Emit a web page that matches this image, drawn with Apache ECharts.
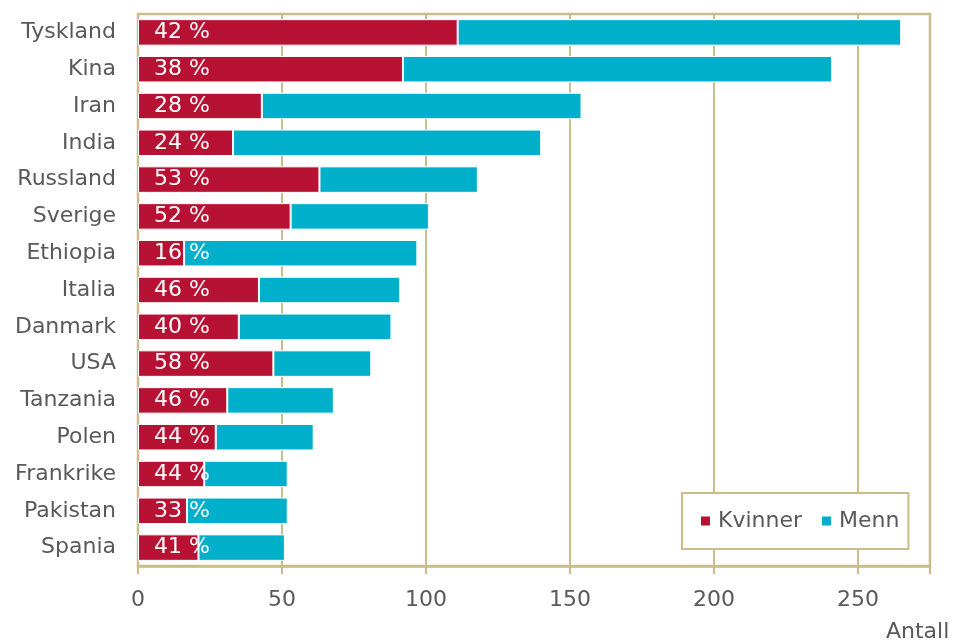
<!DOCTYPE html>
<html><head><meta charset="utf-8">
<script src="https://cdn.jsdelivr.net/npm/echarts@6/dist/echarts.min.js"></script>
<style>html,body{margin:0;padding:0;background:#fff}#c{width:953px;height:640px}</style>
</head><body><div id="c"></div>
<script>
const categories = ['Tyskland','Kina','Iran','India','Russland','Sverige','Ethiopia','Italia','Danmark','USA','Tanzania','Polen','Frankrike','Pakistan','Spania'];
const kvinner = [111, 92, 43, 33, 63, 53, 16, 42, 35, 47, 31, 27, 23, 17, 21];
const menn = [154, 149, 111, 107, 55, 48, 81, 49, 53, 34, 37, 34, 29, 35, 30];
const andelKvinner = [42, 38, 28, 24, 53, 52, 16, 46, 40, 58, 46, 44, 44, 33, 41];
const xTicks = [0, 50, 100, 150, 200, 250];

const gold = '#c9bd8c';
const txt = '#595959';
const font = 'DejaVu Sans';
const fs = 22;
const chart = echarts.init(document.getElementById('c'), null, {renderer: 'canvas'});
chart.setOption({
  animation: false,
  textStyle: {fontFamily: font},
  grid: {left: 138, right: 23, top: 14, bottom: 74, show: true, borderColor: gold, borderWidth: 2.5, containLabel: false},
  legend: {
    left: 682, top: 493, orient: 'horizontal',
    data: ['Kvinner', 'Menn'],
    icon: 'rect', itemWidth: 11, itemHeight: 11, itemGap: 18,
    borderColor: gold, borderWidth: 2, padding: [17, 9, 17, 17],
    textStyle: {color: txt, fontSize: fs, fontFamily: font, padding: [0, 0, 0, 2]},
    backgroundColor: '#fff'
  },
  xAxis: {
    type: 'value', min: 0, max: 275, interval: 50,
    axisLine: {show: true, lineStyle: {color: gold, width: 2.5}},
    axisTick: {show: true, length: 8, lineStyle: {color: gold, width: 2}},
    splitLine: {show: true, lineStyle: {color: gold, width: 2}},
    axisLabel: {color: txt, fontSize: fs, margin: 23, fontFamily: font,
      formatter: v => xTicks.includes(v) ? String(v) : ''},
  },
  yAxis: {
    type: 'category', data: categories, inverse: true,
    axisLine: {show: false}, axisTick: {show: false},
    axisLabel: {color: txt, fontSize: fs, margin: 22, fontFamily: font}
  },
  graphic: [{type: 'text', left: 886, top: 621, style: {text: 'Antall', fill: txt, font: fs + 'px "DejaVu Sans"'}}],
  series: [
    {name: 'Kvinner', type: 'bar', stack: 's', data: kvinner, barCategoryGap: '28%',
      itemStyle: {color: '#b71234', borderColor: '#fff', borderWidth: 1},
      label: {show: true, position: 'insideLeft', distance: 16, color: '#fff', fontSize: fs, fontFamily: font,
        formatter: p => andelKvinner[p.dataIndex] + ' %'}, z: 3},
    {name: 'Menn', type: 'bar', stack: 's', data: menn,
      itemStyle: {color: '#00b0ca', borderColor: '#fff', borderWidth: 1}, z: 2}
  ]
});
</script></body></html>
